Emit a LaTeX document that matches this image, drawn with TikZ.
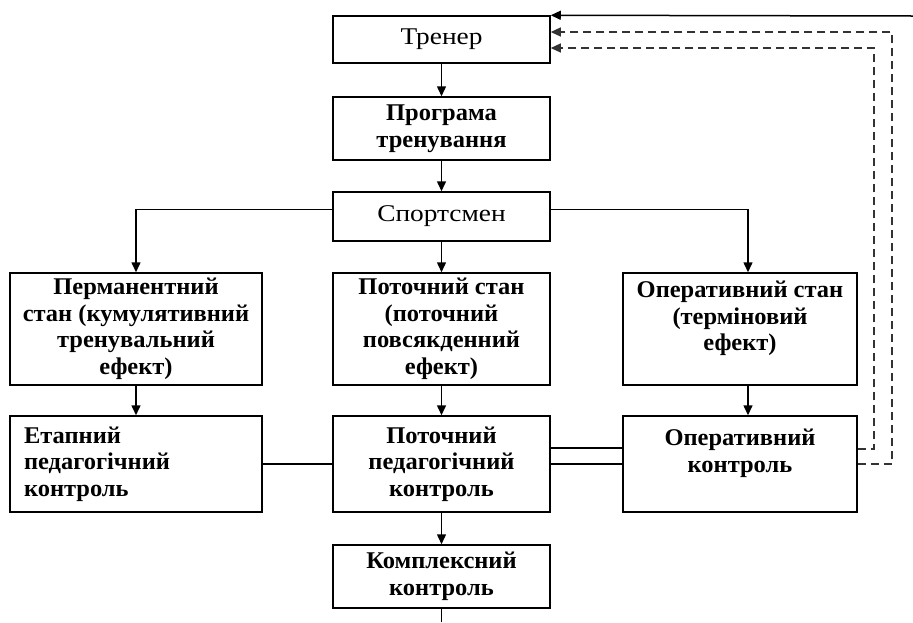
\documentclass[tikz,border=0pt]{standalone}
\usepackage{fontspec}
\setmainfont[FakeStretch=1.02]{Liberation Serif}
\newfontfamily\widereg[FakeStretch=1.14]{Liberation Serif}
\usetikzlibrary{arrows.meta}
\begin{document}
\begin{tikzpicture}[x=1pt,y=-1pt,
  blk/.style={draw, line width=1.5pt, inner sep=0pt, align=center,
    font=\fontsize{24}{26.5}\selectfont\bfseries},
  regtxt/.style={font=\fontsize{24}{26.5}\selectfont\widereg},
  arr/.style={-{Triangle[length=10pt,width=9pt]}},
  ln/.style={line width=1.5pt},
  dsh/.style={line width=1.2pt, dash pattern=on 8pt off 5pt, draw=black!80}]
\useasboundingbox (0,0) rectangle (913,622);
\node[blk, regtxt, minimum width=217, minimum height=47] (trener) at (441.5,39.5) {Тренер};
\node[blk, minimum width=217, minimum height=63] (prog) at (441.5,128.5) {Програма\\тренування};
\node[blk, regtxt, minimum width=217, minimum height=49] (sport) at (441.5,216.5) {Спортсмен};
\node[blk, minimum width=252, minimum height=112] (perm) at (136,329) {Перманентний\\стан (кумулятивний\\тренувальний\\ефект)};
\node[blk, minimum width=217, minimum height=112] (potst) at (441.5,329) {Поточний стан\\(поточний\\повсякденний\\ефект)};
\node[blk, minimum width=234, minimum height=112] (operst) at (740,329) {Оперативний стан\\(терміновий\\ефект)\\\mbox{}};
\node[blk, minimum width=252, minimum height=96, align=left, text width=224] (etap) at (136,464) {Етапний\\педагогічний\\контроль};
\node[blk, minimum width=217, minimum height=96] (potk) at (441.5,464) {Поточний\\педагогічний\\контроль};
\node[blk, minimum width=234, minimum height=96] (operk) at (740,464) {Оперативний\\контроль\\\mbox{}};
\node[blk, minimum width=217, minimum height=63] (kompl) at (441.5,576.5) {Комплексний\\контроль};
\coordinate (fbin) at (913,16);
\coordinate (d1) at (874,48);
\coordinate (d2) at (892,32);
\coordinate (fbout) at (441.5,622);
\draw[ln,arr] (fbin) -- (trener.north east);
\draw[dsh,arr] ([yshift=15pt]operk.east) -| (d1) -- (trener.east |- d1);
\draw[dsh,arr] (operk.east) -| (d2) -- (trener.east |- d2);
\draw[ln,arr] (trener) -- (prog);
\draw[ln,arr] (prog) -- (sport);
\draw[ln,arr] ([yshift=7pt]sport.west) -| (perm.north);
\draw[ln,arr] (sport) -- (potst);
\draw[ln,arr] ([yshift=7pt]sport.east) -| ([xshift=8pt]operst.north);
\draw[ln,arr] (perm) -- (etap);
\draw[ln,arr] (potst) -- (potk);
\draw[ln,arr] ([xshift=8pt]operst.south) -- ([xshift=8pt]operk.north);
\draw[ln] (etap) -- (potk);
\draw[ln] ([yshift=16pt]potk.east) -- ([yshift=16pt]operk.west);
\draw[ln] (potk) -- (operk);
\draw[ln,arr] (potk) -- (kompl);
\draw[ln] (kompl) -- (fbout);
\end{tikzpicture}
\end{document}
